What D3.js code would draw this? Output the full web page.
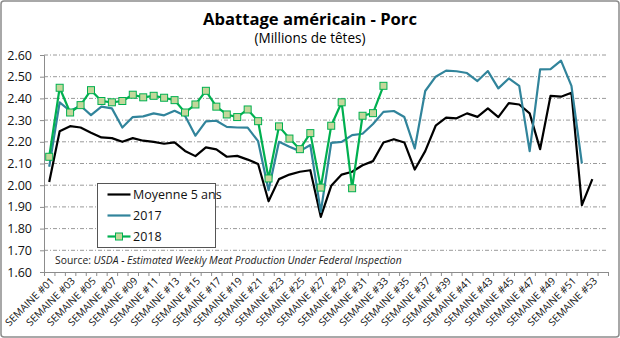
<!DOCTYPE html>
<html><head><meta charset="utf-8">
<script src="https://cdn.jsdelivr.net/npm/d3@7"></script>
<style>body{margin:0;background:#fff}svg{display:block}</style>
</head><body><svg id="c" width="620" height="338"></svg>
<script>
const weeks = d3.range(1, 55).map(d => "SEMAINE #" + String(d).padStart(2, "0"));
const yTicks = [1.6,1.7,1.8,1.9,2.0,2.1,2.2,2.3,2.4,2.5,2.6];
const moyenne5 = [2.015,2.249,2.272,2.266,2.242,2.220,2.217,2.200,2.217,2.205,2.200,2.191,2.197,2.158,2.134,2.174,2.165,2.131,2.135,2.118,2.098,1.926,2.028,2.049,2.062,2.069,1.854,1.997,2.049,2.062,2.092,2.111,2.197,2.212,2.197,2.072,2.157,2.274,2.311,2.308,2.331,2.315,2.354,2.314,2.378,2.372,2.331,2.166,2.412,2.408,2.426,1.908,2.028];
const s2017 = [2.085,2.382,2.342,2.366,2.323,2.362,2.354,2.266,2.314,2.317,2.331,2.322,2.343,2.320,2.228,2.294,2.297,2.269,2.266,2.265,2.203,1.977,2.200,2.177,2.157,2.185,1.877,2.195,2.200,2.231,2.237,2.282,2.338,2.342,2.314,2.169,2.434,2.500,2.528,2.525,2.517,2.480,2.526,2.446,2.492,2.458,2.157,2.534,2.535,2.574,2.458,2.100];
const s2018 = [2.131,2.449,2.335,2.369,2.438,2.388,2.382,2.388,2.417,2.405,2.412,2.403,2.392,2.335,2.372,2.435,2.362,2.326,2.314,2.349,2.295,2.031,2.271,2.215,2.166,2.240,1.989,2.274,2.382,1.986,2.320,2.332,2.458];
const seriesNames = ["Moyenne 5 ans","2017","2018"];
const colors = ["#000000","#31849B","#00B050"];

const svg = d3.select("#c");
const W = 620, H = 338;
svg.append("rect").attr("x",1).attr("y",1).attr("width",W-2).attr("height",H-2)
  .attr("rx",3).attr("fill","#fff").attr("stroke","#8c8c8c").attr("stroke-width",1.5);

const L = 44, R = 608, T = 55, B = 272;
const x = d3.scaleBand().domain(weeks).range([L, R]).padding(0);
const cx = i => x(weeks[i]) + x.bandwidth()/2;
const y = d3.scaleLinear().domain([1.6, 2.6]).range([B, T]);

// gridlines
svg.append("g").selectAll("line").data(yTicks.slice(1)).join("line")
  .attr("x1", L).attr("x2", R).attr("y1", d => y(d)).attr("y2", d => y(d))
  .attr("stroke","#9a9a9a").attr("stroke-width",1).attr("stroke-dasharray","4,2,1,2");

// y axis
const ya = svg.append("g").attr("transform",`translate(${L},0)`)
  .call(d3.axisLeft(y).tickValues(yTicks).tickFormat(d3.format(".2f")).tickSize(4).tickPadding(8));
ya.select(".domain").attr("stroke","#8c8c8c");
ya.selectAll(".tick line").attr("stroke","#8c8c8c");
ya.selectAll("text").attr("font-family","'Open Sans', sans-serif").attr("font-size",12.5).attr("fill","#111");

// x axis boundary ticks
const xb = d3.scaleLinear().domain([0, weeks.length]).range([L, R]);
const xa = svg.append("g").attr("transform",`translate(0,${B})`)
  .call(d3.axisBottom(xb).tickValues(d3.range(0, weeks.length+1)).tickFormat("").tickSize(4));
xa.select(".domain").attr("stroke","#8c8c8c");
xa.selectAll(".tick line").attr("stroke","#8c8c8c");

// x labels
const xl = svg.append("g").selectAll("text").data(weeks.filter((d,i)=> i%2===0 && i<53)).join("text")
  .attr("transform", d => `translate(${x(d)+x.bandwidth()/2+3},${B+7}) rotate(-45)`)
  .attr("text-anchor","end").attr("dy","0.35em")
  .attr("font-family","'Open Sans', sans-serif").attr("font-size",10).attr("font-weight",400).attr("fill","#111")
  .text(d => d);
const lw = xl.node().getComputedTextLength();
xl.attr("font-size", 10*64/lw);

// lines
const line = d3.line().x((d,i)=>cx(i)).y(d=>y(d));
[moyenne5, s2017, s2018].forEach((s, k) => {
  svg.append("path").datum(s).attr("d", line).attr("fill","none")
    .attr("stroke", colors[k]).attr("stroke-width", 2.2).attr("stroke-linejoin","round");
});
svg.append("g").selectAll("rect").data(s2018).join("rect")
  .attr("x",(d,i)=>cx(i)-3.5).attr("y",d=>y(d)-3.5).attr("width",7).attr("height",7)
  .attr("fill","#C4D79B").attr("stroke","#00B050").attr("stroke-width",1);

// legend
const lg = svg.append("g");
lg.append("rect").attr("x",97.5).attr("y",183.5).attr("width",118).attr("height",64)
  .attr("fill","#fff").attr("stroke","#555").attr("stroke-width",1);
const ly = [194.5, 215.5, 236.5];
seriesNames.forEach((n,k)=>{
  lg.append("line").attr("x1",107.5).attr("x2",130.5).attr("y1",ly[k]).attr("y2",ly[k])
    .attr("stroke",colors[k]).attr("stroke-width",2.2);
  if (k===2) lg.append("rect").attr("x",115.5).attr("y",ly[k]-3.5).attr("width",7).attr("height",7)
    .attr("fill","#C4D79B").attr("stroke","#00B050");
  lg.append("text").attr("x",133).attr("y",ly[k]).attr("dy","0.36em")
    .attr("font-family","'Open Sans', sans-serif").attr("font-size",12.5).attr("fill","#111").text(n);
});

// source
const src = svg.append("text").attr("x",55).attr("y",264)
  .attr("font-family","'Open Sans', sans-serif").attr("font-size",10).attr("fill","#222");
src.append("tspan").text("Source: ");
src.append("tspan").attr("font-style","italic").text("USDA - Estimated Weekly Meat Production Under Federal Inspection");
const sw = src.node().getComputedTextLength();
src.attr("font-size", 10*347/sw);

// titles
const t1 = svg.append("text").attr("x",310).attr("y",25).attr("text-anchor","middle")
  .attr("font-family","'Open Sans', sans-serif").attr("font-weight",700).attr("font-size",17).attr("fill","#000")
  .text("Abattage américain - Porc");
t1.attr("font-size", 17*214/t1.node().getComputedTextLength());
const t2 = svg.append("text").attr("x",310).attr("y",43).attr("text-anchor","middle")
  .attr("font-family","'Open Sans', sans-serif").attr("font-size",13).attr("fill","#000")
  .text("(Millions de têtes)");
t2.attr("font-size", 13*111/t2.node().getComputedTextLength());
</script></body></html>
